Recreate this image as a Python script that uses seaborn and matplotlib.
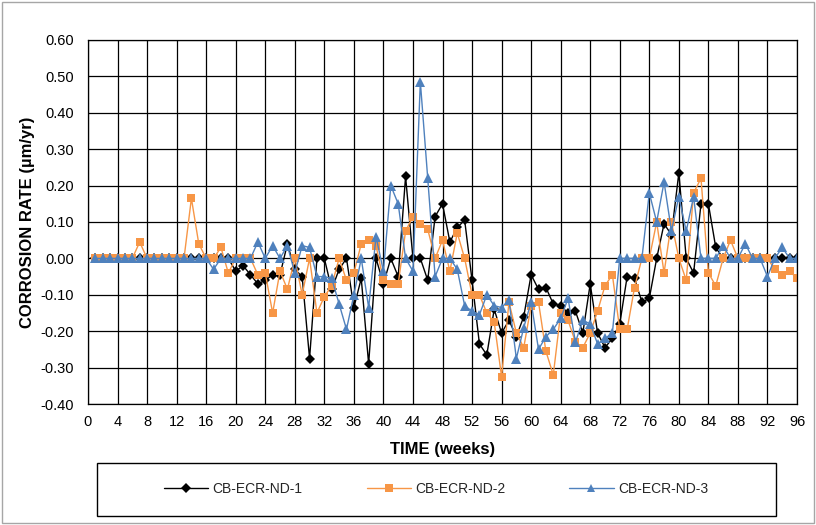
import pandas as pd
import matplotlib
matplotlib.use("Agg")
import matplotlib.pyplot as plt
import seaborn as sns
from matplotlib.patches import Rectangle
from matplotlib.ticker import MultipleLocator, FormatStrFormatter

# weekly corrosion rate readings (um/yr), weeks 1..96
weeks = list(range(1, 97))

nd1 = [
    0, 0, 0, 0, 0, 0, 0, 0, 0, 0, 0, 0,
    0, 0, 0, 0, 0, 0, 0, -0.035, -0.02, -0.045, -0.07, -0.06,
    -0.045, -0.045, 0.04, -0.03, -0.05, -0.275, 0, 0, -0.085, -0.03, 0, -0.135,
    -0.055, -0.29, 0, -0.07, 0, -0.05, 0.225, 0, 0, -0.06, 0.115, 0.15,
    0.045, 0.085, 0.105, -0.06, -0.235, -0.265, -0.14, -0.205, -0.17, -0.215, -0.16, -0.045,
    -0.085, -0.08, -0.125, -0.13, -0.15, -0.145, -0.205, -0.07, -0.205, -0.245, -0.22, -0.18,
    -0.05, -0.055, -0.12, -0.11, 0, 0.095, 0.065, 0.235, 0, -0.04, 0.15, 0.15,
    0.03, 0, 0, 0, 0, 0, 0, 0, 0, 0, 0, 0,
]

nd2 = [
    0, 0, 0, 0, 0, 0, 0.045, 0, 0, 0, 0, 0,
    0, 0.165, 0.04, 0, 0, 0.03, -0.04, 0, 0, 0, -0.045, -0.04,
    -0.15, -0.035, -0.085, 0, -0.1, 0, -0.15, -0.105, -0.075, 0, -0.06, -0.04,
    0.04, 0.05, 0.035, -0.06, -0.07, -0.07, 0.075, 0.115, 0.095, 0.08, 0, 0.05,
    -0.035, 0.07, 0, -0.1, -0.1, -0.15, -0.175, -0.325, -0.12, -0.205, -0.245, -0.13,
    -0.12, -0.255, -0.32, -0.15, -0.17, -0.23, -0.245, -0.205, -0.145, -0.075, -0.045, -0.195,
    -0.195, -0.08, 0, 0, 0.1, -0.04, 0.1, 0, -0.06, 0.18, 0.22, -0.04,
    -0.075, 0, 0.05, 0, 0, 0, 0, 0, -0.03, -0.045, -0.035, -0.055,
]

nd3 = [
    0, 0, 0, 0, 0, 0, 0, 0, 0, 0, 0, 0,
    0, 0, 0, 0, -0.03, 0, 0, 0, 0, 0, 0.045, 0,
    0.035, 0, 0.035, -0.04, 0.035, 0.03, -0.05, -0.05, -0.055, -0.125, -0.195, -0.1,
    0, -0.135, 0.06, -0.035, 0.2, 0.15, 0, -0.035, 0.485, 0.22, -0.05, 0,
    0, -0.03, -0.13, -0.145, -0.155, -0.1, -0.13, -0.135, -0.115, -0.275, -0.19, -0.12,
    -0.25, -0.215, -0.195, -0.165, -0.11, -0.23, -0.17, -0.18, -0.235, -0.22, -0.205, 0,
    0, 0, 0, 0.18, 0.1, 0.21, 0.075, 0.17, 0.075, 0.17, 0, 0,
    0, 0.035, 0, 0, 0.04, 0, 0, -0.05, 0, 0.03, 0, 0,
]

series_names = ["CB-ECR-ND-1", "CB-ECR-ND-2", "CB-ECR-ND-3"]
colors = ["#000000", "#F79646", "#4F81BD"]
marker_map = {"CB-ECR-ND-1": "D", "CB-ECR-ND-2": "s", "CB-ECR-ND-3": "^"}

df = pd.DataFrame({"week": weeks, series_names[0]: nd1,
                   series_names[1]: nd2, series_names[2]: nd3})
long_df = df.melt(id_vars="week", var_name="series", value_name="rate")

sns.set_theme(style="white")
plt.rcParams["font.family"] = ["Liberation Sans", "DejaVu Sans"]
plt.rcParams["axes.unicode_minus"] = False

fig = plt.figure(figsize=(8.16, 5.25), dpi=100)
ax = fig.add_axes([88 / 816, 1 - 404 / 525, 709 / 816, 364 / 525])

sns.lineplot(data=long_df, x="week", y="rate", hue="series", style="series",
             hue_order=series_names, style_order=series_names,
             palette=colors, markers=marker_map, dashes=False,
             linewidth=1, markersize=6, markeredgewidth=0, ax=ax)

# triangles and squares a bit bigger than the diamonds
for line in ax.get_lines():
    if line.get_marker() == "^":
        line.set_markersize(7)
    elif line.get_marker() == "s":
        line.set_markersize(6)
    elif line.get_marker() == "D":
        line.set_markersize(5.5)

ax.set_xlim(0, 96)
ax.set_ylim(-0.40, 0.60)
ax.xaxis.set_major_locator(MultipleLocator(4))
ax.yaxis.set_major_locator(MultipleLocator(0.1))
ax.yaxis.set_major_formatter(FormatStrFormatter("%.2f"))
ax.grid(True, color="black", linewidth=0.9)
ax.set_axisbelow(True)
for sp in ax.spines.values():
    sp.set_color("black")
    sp.set_linewidth(0.9)
ax.tick_params(axis="both", direction="out", length=4, width=0.9,
               color="black", labelsize=10.5, labelcolor="black")
ax.tick_params(axis="x", pad=4)
ax.tick_params(axis="y", pad=6)

ax.set_xlabel("TIME (weeks)", fontsize=12, fontweight="bold", color="black")
ax.set_ylabel("CORROSION RATE (\u00b5m/yr)", fontsize=12, fontweight="bold", color="black")
ax.xaxis.set_label_coords(0.5, -0.105)
ax.yaxis.set_label_coords(-0.075, 0.5)

handles, labels = ax.get_legend_handles_labels()
ax.get_legend().remove()
for h in handles:
    if h.get_marker() == "^":
        h.set_markersize(6)
fig.legend(handles, labels, loc="center", bbox_to_anchor=(436 / 816, 1 - 489 / 525),
           ncol=3, frameon=False, fontsize=10, handlelength=3.2,
           handletextpad=0.3, columnspacing=4.6)

fig.patches.append(Rectangle((97 / 816, 1 - 516 / 525), 679 / 816, 53 / 525,
                             transform=fig.transFigure, fill=False,
                             edgecolor="black", linewidth=1))
fig.patches.append(Rectangle((0.002, 0.003), 0.995, 0.994,
                             transform=fig.transFigure, fill=False,
                             edgecolor="#a6a6a6", linewidth=1))

fig.savefig("out.png", dpi=100)
